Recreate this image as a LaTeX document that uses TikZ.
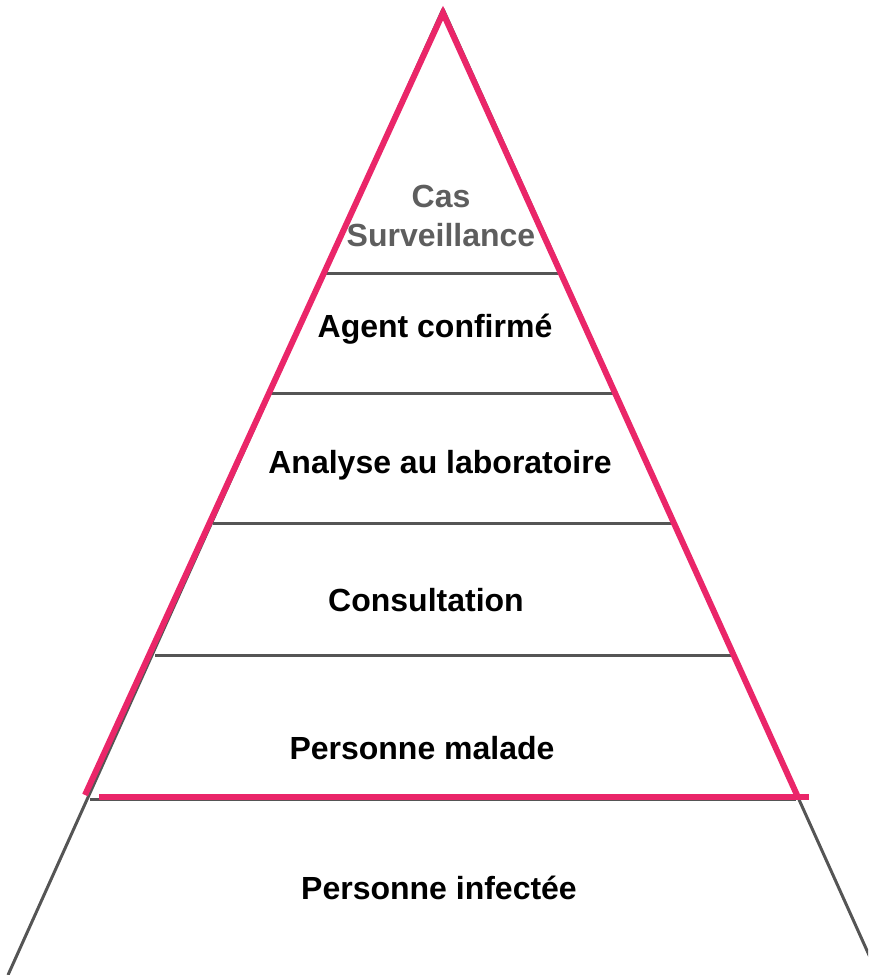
\documentclass[tikz,border=0pt]{standalone}
\usepackage{fontspec}
\setmainfont{Liberation Sans}
\usepackage{xcolor}
\usetikzlibrary{calc,positioning}
\definecolor{rosecas}{RGB}{234,38,105}
\definecolor{grisniv}{RGB}{85,85,85}

\begin{document}
\begin{tikzpicture}[x=1pt,y=-1pt]
          \useasboundingbox (0,0) rectangle (868,975);
          \tikzstyle{every node}=[inner sep=0pt, font=\fontsize{32}{39}\selectfont\bfseries]
          \tikzstyle{niveau}=[draw=grisniv, line width=3pt]
          \tikzstyle{bord}=[draw=rosecas, line width=6pt]

          % gray pyramid
          \coordinate (GS) at (443,9);
          \coordinate (GG) at (8,975);
          \coordinate (GD) at (878,975);
          \begin{scope}
          \clip (0,0) rectangle (868,975);
          \path[niveau, line join=bevel] (GG) -- (GS) -- (GD);
          \end{scope}

          % levels
          \path[niveau] (325,273) -- (561,273);
          \path[niveau] (271,393) -- (615,393);
          \path[niveau] (213,523) -- (672,523);
          \path[niveau] (155,655) -- (731,655);
          \path[niveau] (90,799) -- (796,799);

          % pink triangle
          \coordinate (PS) at (443,13);
          \coordinate (PG) at (85,795);
          \coordinate (PD) at (797,795);
          \path[bord, miter limit=20] (PG) -- (PS) -- (PD);
          \path[bord] (99,797) -- (809,797);

          % labels
          \node[text=grisniv!95, align=center] (cas) at (441,216) {Cas\\Surveillance};
          \node[anchor=base] (agent) at (435,337) {Agent confirmé};
          \node[anchor=base] (labo) at (440,473) {Analyse au laboratoire};
          \node[anchor=base] (consult) at (426,611) {Consultation};
          \node[anchor=base] (malade) at (422,759) {Personne malade};
          \node[anchor=base] (infecte) at (439,899) {Personne infectée};

\end{tikzpicture}
\end{document}
